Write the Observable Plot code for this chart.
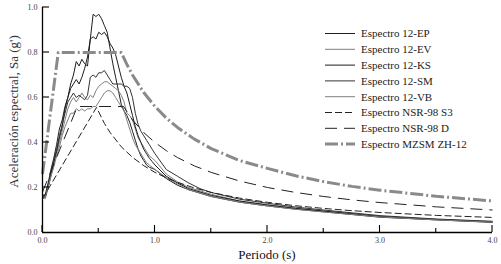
<!DOCTYPE html>
<html><head><meta charset="utf-8">
<script src="https://cdn.jsdelivr.net/npm/d3@7"></script>
<script src="https://cdn.jsdelivr.net/npm/@observablehq/plot@0.6"></script>
<style>body{margin:0;background:#fff} svg{display:block}</style>
</head><body><div id="chart"></div>
<script>
// Period grid of the recorded spectra (s)
const periods = [0,0.025,0.05,0.075,0.1,0.125,0.15,0.175,0.2,0.225,0.25,0.275,0.3,0.325,0.35,0.375,0.4,0.425,0.45,0.475,0.5,0.525,0.55,0.575,0.6,0.625,0.65,0.675,0.7,0.725,0.75,0.775,0.8,0.825,0.85,0.875,0.9,0.925,0.95,0.975,1.0,1.1,1.2,1.3,1.4,1.5,1.75,2.0,2.25,2.5,3.0,3.5,4.0];
const sa12EP = [0.16,0.17,0.22,0.28,0.33,0.39,0.46,0.50,0.56,0.60,0.66,0.70,0.76,0.74,0.77,0.75,0.74,0.86,0.97,0.96,0.97,0.95,0.92,0.89,0.82,0.75,0.69,0.63,0.57,0.54,0.52,0.49,0.45,0.41,0.37,0.34,0.32,0.30,0.29,0.285,0.28,0.24,0.21,0.19,0.175,0.16,0.135,0.118,0.104,0.092,0.068,0.056,0.045];
const sa12EV = [0.16,0.15,0.20,0.25,0.30,0.35,0.40,0.45,0.50,0.55,0.58,0.60,0.58,0.60,0.62,0.60,0.59,0.61,0.60,0.63,0.65,0.66,0.67,0.67,0.66,0.65,0.64,0.63,0.61,0.58,0.53,0.52,0.50,0.46,0.42,0.40,0.38,0.36,0.34,0.33,0.32,0.26,0.225,0.20,0.185,0.17,0.14,0.124,0.108,0.096,0.072,0.058,0.048];
const sa12KS = [0.15,0.16,0.20,0.26,0.31,0.36,0.42,0.47,0.55,0.60,0.64,0.66,0.68,0.66,0.69,0.73,0.78,0.86,0.87,0.86,0.89,0.88,0.89,0.87,0.84,0.82,0.79,0.74,0.69,0.65,0.62,0.57,0.52,0.47,0.43,0.40,0.37,0.35,0.33,0.315,0.30,0.25,0.22,0.195,0.18,0.165,0.14,0.122,0.107,0.095,0.071,0.058,0.047];
const sa12SM = [0.17,0.16,0.21,0.27,0.32,0.37,0.43,0.48,0.53,0.58,0.60,0.62,0.60,0.61,0.60,0.59,0.61,0.69,0.70,0.69,0.71,0.71,0.72,0.70,0.68,0.66,0.66,0.66,0.66,0.65,0.65,0.64,0.60,0.53,0.48,0.45,0.43,0.41,0.39,0.37,0.35,0.28,0.25,0.22,0.195,0.178,0.148,0.13,0.113,0.10,0.075,0.06,0.05];
const sa12VB = [0.15,0.16,0.20,0.25,0.29,0.34,0.38,0.43,0.47,0.50,0.53,0.53,0.55,0.54,0.55,0.54,0.55,0.55,0.56,0.56,0.58,0.60,0.62,0.63,0.63,0.62,0.60,0.58,0.56,0.54,0.50,0.46,0.42,0.39,0.37,0.35,0.33,0.31,0.30,0.29,0.28,0.245,0.215,0.19,0.175,0.16,0.135,0.118,0.103,0.091,0.069,0.056,0.046];

// Design spectra
const tNSRS3  = [0,0.48,0.55,0.6,0.7,0.8,0.9,1.0,1.1,1.2,1.35,1.5,1.75,2.0,2.25,2.5,2.75,3.0,3.5,4.0];
const saNSRS3 = [0.15,0.556,0.485,0.445,0.381,0.334,0.297,0.267,0.243,0.223,0.198,0.178,0.153,0.134,0.119,0.107,0.097,0.089,0.076,0.067];
const tNSRD   = [0,0.31,0.72,0.8,0.9,1.0,1.1,1.2,1.35,1.5,1.75,2.0,2.25,2.5,2.75,3.0,3.5,4.0];
const saNSRD  = [0.18,0.56,0.56,0.50,0.444,0.40,0.364,0.333,0.296,0.267,0.229,0.20,0.178,0.16,0.145,0.133,0.114,0.10];
const tMZSM   = [0,0.14,0.70,0.75,0.8,0.9,1.0,1.1,1.2,1.35,1.5,1.75,2.0,2.25,2.5,2.75,3.0,3.5,4.0];
const saMZSM  = [0.26,0.80,0.80,0.747,0.70,0.622,0.56,0.509,0.467,0.415,0.373,0.32,0.285,0.252,0.226,0.205,0.188,0.161,0.14];

const xTicks = [0,1,2,3,4];
const xMinorTicks = [0.5,1.5,2.5,3.5];
const yTicks = [0,0.2,0.4,0.6,0.8,1.0];
const legendLabels = ["Espectro 12-EP","Espectro 12-EV","Espectro 12-KS","Espectro 12-SM","Espectro 12-VB","Espectro NSR-98 S3","Espectro NSR-98 D","Espectro MZSM ZH-12"];

const BLACK = "#1e1e1e", GRAY = "#808080", MZ = "#8a8a8a";
const styles = [
  {stroke: BLACK, strokeWidth: 1, dash: null},
  {stroke: GRAY, strokeWidth: 1, dash: null},
  {stroke: BLACK, strokeWidth: 1, dash: null},
  {stroke: "#333", strokeWidth: 1, dash: null},
  {stroke: GRAY, strokeWidth: 1, dash: null},
  {stroke: "#222", strokeWidth: 1, dash: "7,3"},
  {stroke: "#222", strokeWidth: 1, dash: "12,7"},
  {stroke: MZ, strokeWidth: 3, dash: "13,3,2,3"}
];

const rec = [sa12EP, sa12EV, sa12KS, sa12SM, sa12VB].map(a => periods.map((T, i) => ({T, Sa: a[i]})));
const design = [[tNSRS3, saNSRS3], [tNSRD, saNSRD], [tMZSM, saMZSM]].map(([t, s]) => t.map((T, i) => ({T, Sa: s[i]})));
const allSeries = [...rec, ...design];

const font = "'Liberation Serif', 'DejaVu Serif', serif";
const chart = Plot.plot({
  width: 501, height: 264,
  marginLeft: 42, marginRight: 9, marginTop: 7, marginBottom: 32,
  style: {fontFamily: font, background: "#fff", overflow: "visible"},
  x: {domain: [0, 4]},
  y: {domain: [0, 1]},
  marks: [
    Plot.axisX({ticks: xTicks, tickFormat: d3.format(".1f"), tickSize: 0, tickPadding: 5, fontSize: 8, fill: "#444", label: null}),
    Plot.axisY({ticks: yTicks, tickFormat: d3.format(".1f"), tickSize: 0, tickPadding: 5, fontSize: 8, fill: "#444", label: null}),
    ...allSeries.map((data, k) => Plot.line(data, {x: "T", y: "Sa", stroke: styles[k].stroke, strokeWidth: styles[k].strokeWidth, strokeDasharray: styles[k].dash, strokeLinecap: "butt", strokeLinejoin: "round"})),
    Plot.ruleY([0], {stroke: "#000", strokeWidth: 1.3}),
    Plot.ruleX([0], {stroke: "#000", strokeWidth: 1.3})
  ]
});
document.getElementById("chart").append(chart);

const sx = chart.scale("x"), sy = chart.scale("y");
const svg = d3.select(chart);
const y0 = sy.apply(0), x0 = sx.apply(0);
const g = svg.append("g").attr("stroke", "#000").attr("stroke-width", 1.1);
xTicks.forEach(v => g.append("line").attr("x1", sx.apply(v)).attr("x2", sx.apply(v)).attr("y1", y0).attr("y2", y0 - 7));
xMinorTicks.forEach(v => g.append("line").attr("x1", sx.apply(v)).attr("x2", sx.apply(v)).attr("y1", y0).attr("y2", y0 - 4));
yTicks.slice(1).forEach(v => g.append("line").attr("x1", x0).attr("x2", x0 + 7).attr("y1", sy.apply(v)).attr("y2", sy.apply(v)));

// axis titles
svg.append("text").attr("x", (sx.apply(0) + sx.apply(4)) / 2).attr("y", 259)
  .attr("text-anchor", "middle").attr("font-size", 13).attr("font-family", font).attr("fill", "#111").text("Periodo (s)");
svg.append("text").attr("transform", `translate(18,${(sy.apply(0) + sy.apply(1)) / 2 - 8}) rotate(-90)`)
  .attr("text-anchor", "middle").attr("font-size", 13).attr("font-family", font).attr("fill", "#333").text("Aceleración espectral, Sa (g')");

// legend
const lg = svg.append("g").attr("font-family", font).attr("font-size", 11).attr("text-anchor", "start");
legendLabels.forEach((lab, i) => {
  const yy = 33.5 + 15.8 * i;
  lg.append("line").attr("x1", 325).attr("x2", 355).attr("y1", yy).attr("y2", yy)
    .attr("stroke", styles[i].stroke).attr("stroke-width", styles[i].strokeWidth)
    .attr("stroke-dasharray", styles[i].dash).attr("stroke-linecap", "butt");
  lg.append("text").attr("x", 361).attr("y", yy).attr("dy", "0.35em").attr("text-anchor", "start").attr("fill", "#222").text(lab);
});
</script></body></html>
